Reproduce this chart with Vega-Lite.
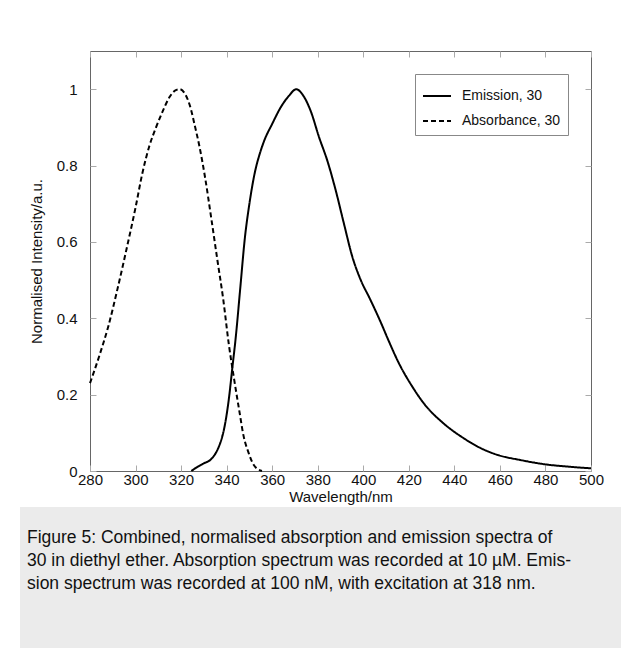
{
  "$schema": "https://vega.github.io/schema/vega-lite/v6.json",
  "background": "white",
  "padding": {"left": 20, "top": 50, "right": 0, "bottom": 0},
  "autosize": {"type": "pad"},
  "bounds": "flush",
  "center": true,
  "spacing": 36,
  "resolve": {"legend": {"strokeDash": "independent"}},
  "config": {
    "font": "Liberation Sans",
    "view": {"stroke": null}
  },
  "datasets": {
    "spectra": [
      {"series": "Absorbance, 30", "wl": 280, "v": 0.23},
      {"series": "Absorbance, 30", "wl": 284, "v": 0.3},
      {"series": "Absorbance, 30", "wl": 288, "v": 0.378},
      {"series": "Absorbance, 30", "wl": 292, "v": 0.475},
      {"series": "Absorbance, 30", "wl": 296, "v": 0.58},
      {"series": "Absorbance, 30", "wl": 300, "v": 0.69},
      {"series": "Absorbance, 30", "wl": 303, "v": 0.78},
      {"series": "Absorbance, 30", "wl": 306, "v": 0.85},
      {"series": "Absorbance, 30", "wl": 309, "v": 0.9},
      {"series": "Absorbance, 30", "wl": 312, "v": 0.943},
      {"series": "Absorbance, 30", "wl": 315, "v": 0.98},
      {"series": "Absorbance, 30", "wl": 317.5, "v": 0.997},
      {"series": "Absorbance, 30", "wl": 319.3, "v": 1.0},
      {"series": "Absorbance, 30", "wl": 321.5, "v": 0.99},
      {"series": "Absorbance, 30", "wl": 324.3, "v": 0.948},
      {"series": "Absorbance, 30", "wl": 326, "v": 0.905},
      {"series": "Absorbance, 30", "wl": 328, "v": 0.852},
      {"series": "Absorbance, 30", "wl": 330.5, "v": 0.77},
      {"series": "Absorbance, 30", "wl": 333.3, "v": 0.66},
      {"series": "Absorbance, 30", "wl": 336, "v": 0.55},
      {"series": "Absorbance, 30", "wl": 338.5, "v": 0.45},
      {"series": "Absorbance, 30", "wl": 341, "v": 0.33},
      {"series": "Absorbance, 30", "wl": 343.3, "v": 0.24},
      {"series": "Absorbance, 30", "wl": 345.5, "v": 0.16},
      {"series": "Absorbance, 30", "wl": 347.5, "v": 0.09},
      {"series": "Absorbance, 30", "wl": 349.5, "v": 0.05},
      {"series": "Absorbance, 30", "wl": 352, "v": 0.015},
      {"series": "Absorbance, 30", "wl": 355.5, "v": 0.0},
      {"series": "Emission, 30", "wl": 324.5, "v": 0.0},
      {"series": "Emission, 30", "wl": 327.5, "v": 0.012},
      {"series": "Emission, 30", "wl": 330, "v": 0.02},
      {"series": "Emission, 30", "wl": 333, "v": 0.03},
      {"series": "Emission, 30", "wl": 335.5, "v": 0.05},
      {"series": "Emission, 30", "wl": 337, "v": 0.07},
      {"series": "Emission, 30", "wl": 338.5, "v": 0.1},
      {"series": "Emission, 30", "wl": 339.8, "v": 0.14},
      {"series": "Emission, 30", "wl": 341, "v": 0.19},
      {"series": "Emission, 30", "wl": 342.5, "v": 0.27},
      {"series": "Emission, 30", "wl": 344, "v": 0.35},
      {"series": "Emission, 30", "wl": 346, "v": 0.48},
      {"series": "Emission, 30", "wl": 348, "v": 0.61},
      {"series": "Emission, 30", "wl": 350, "v": 0.7},
      {"series": "Emission, 30", "wl": 352.5, "v": 0.785},
      {"series": "Emission, 30", "wl": 354.5, "v": 0.83},
      {"series": "Emission, 30", "wl": 356.5, "v": 0.865},
      {"series": "Emission, 30", "wl": 360, "v": 0.909},
      {"series": "Emission, 30", "wl": 363.7, "v": 0.952},
      {"series": "Emission, 30", "wl": 367.4, "v": 0.983},
      {"series": "Emission, 30", "wl": 370.6, "v": 1.0},
      {"series": "Emission, 30", "wl": 373.2, "v": 0.987},
      {"series": "Emission, 30", "wl": 376.9, "v": 0.943},
      {"series": "Emission, 30", "wl": 380.6, "v": 0.874},
      {"series": "Emission, 30", "wl": 384.2, "v": 0.813},
      {"series": "Emission, 30", "wl": 387.9, "v": 0.735},
      {"series": "Emission, 30", "wl": 391.5, "v": 0.648},
      {"series": "Emission, 30", "wl": 395.2, "v": 0.561},
      {"series": "Emission, 30", "wl": 398.9, "v": 0.5},
      {"series": "Emission, 30", "wl": 403, "v": 0.45},
      {"series": "Emission, 30", "wl": 408, "v": 0.385},
      {"series": "Emission, 30", "wl": 411, "v": 0.343},
      {"series": "Emission, 30", "wl": 416, "v": 0.278},
      {"series": "Emission, 30", "wl": 421, "v": 0.226},
      {"series": "Emission, 30", "wl": 427, "v": 0.174},
      {"series": "Emission, 30", "wl": 435, "v": 0.126},
      {"series": "Emission, 30", "wl": 443.8, "v": 0.087},
      {"series": "Emission, 30", "wl": 451.2, "v": 0.061},
      {"series": "Emission, 30", "wl": 458.5, "v": 0.043},
      {"series": "Emission, 30", "wl": 468.8, "v": 0.029},
      {"series": "Emission, 30", "wl": 480.5, "v": 0.017},
      {"series": "Emission, 30", "wl": 490.8, "v": 0.011},
      {"series": "Emission, 30", "wl": 500, "v": 0.007}
    ]
  },
  "vconcat": [
    {
      "width": 501,
      "height": 420,
      "view": {"stroke": "#666", "strokeWidth": 1},
      "data": {"name": "spectra"},
      "layer": [
        {
          "mark": {"type": "line", "color": "black", "strokeWidth": 2, "interpolate": "monotone"},
          "encoding": {
            "x": {
              "field": "wl", "type": "quantitative",
              "scale": {"domain": [280, 500], "nice": false, "zero": false},
              "axis": {
                "title": "Wavelength/nm", "values": [280, 300, 320, 340, 360, 380, 400, 420, 440, 460, 480, 500],
                "domain": false, "grid": false, "tickSize": -6, "tickColor": "#aaa",
                "labelFontSize": 15, "labelColor": "#111", "labelPadding": 7, "labelFlush": false,
                "titleFontSize": 15, "titleFontWeight": "normal", "titleColor": "#111", "titlePadding": 2
              }
            },
            "y": {
              "field": "v", "type": "quantitative",
              "scale": {"domain": [0, 1.1], "nice": false},
              "axis": {
                "title": "Normalised Intensity/a.u.", "values": [0, 0.2, 0.4, 0.6, 0.8, 1],
                "format": "~g", "domain": false, "grid": false, "tickSize": -6, "tickColor": "#aaa",
                "labelFontSize": 15, "labelColor": "#111", "labelPadding": 19, "labelFlush": false,
                "titleFontSize": 15, "titleFontWeight": "normal", "titleColor": "#111", "titlePadding": 12
              }
            },
            "strokeDash": {
              "field": "series", "type": "nominal",
              "scale": {"domain": ["Emission, 30", "Absorbance, 30"], "range": [[1, 0], [5, 3]]},
              "legend": {
                "title": null, "orient": "top-right", "offset": 23,
                "strokeColor": "#888", "fillColor": "white", "padding": 7,
                "symbolType": "stroke", "symbolSize": 784, "symbolStrokeWidth": 2, "symbolStrokeColor": "black",
                "labelFontSize": 14, "labelColor": "#111", "rowPadding": 3, "labelOffset": 10
              }
            }
          }
        },
        {
          "mark": {"type": "line", "opacity": 0},
          "encoding": {
            "detail": {"field": "series"},
            "x": {
              "field": "wl", "type": "quantitative",
              "axis": {"orient": "top", "title": null, "labels": false, "domain": false, "grid": false,
                       "values": [280, 300, 320, 340, 360, 380, 400, 420, 440, 460, 480, 500],
                       "tickSize": -6, "tickColor": "#aaa"}
            },
            "y": {
              "field": "v", "type": "quantitative",
              "axis": {"orient": "right", "title": null, "labels": false, "domain": false, "grid": false,
                       "values": [0, 0.2, 0.4, 0.6, 0.8, 1], "tickSize": -6, "tickColor": "#aaa"}
            }
          }
        }
      ],
      "resolve": {"axis": {"x": "independent", "y": "independent"}}
    },
    {
      "width": 641,
      "height": 142,
      "view": {"fill": "#ebebeb", "stroke": null},
      "data": {"values": []},
      "mark": "rect",
      "title": {
        "text": [
          "Figure 5: Combined, normalised absorption and emission spectra of",
          "30 in diethyl ether. Absorption spectrum was recorded at 10 µM. Emis-",
          "sion spectrum was recorded at 100 nM, with excitation at 318 nm."
        ],
        "orient": "bottom", "anchor": "start", "frame": "group",
        "fontSize": 17.5, "fontWeight": "normal", "color": "#111", "lineHeight": 23,
        "offset": -120, "dx": 7
      }
    }
  ]
}
